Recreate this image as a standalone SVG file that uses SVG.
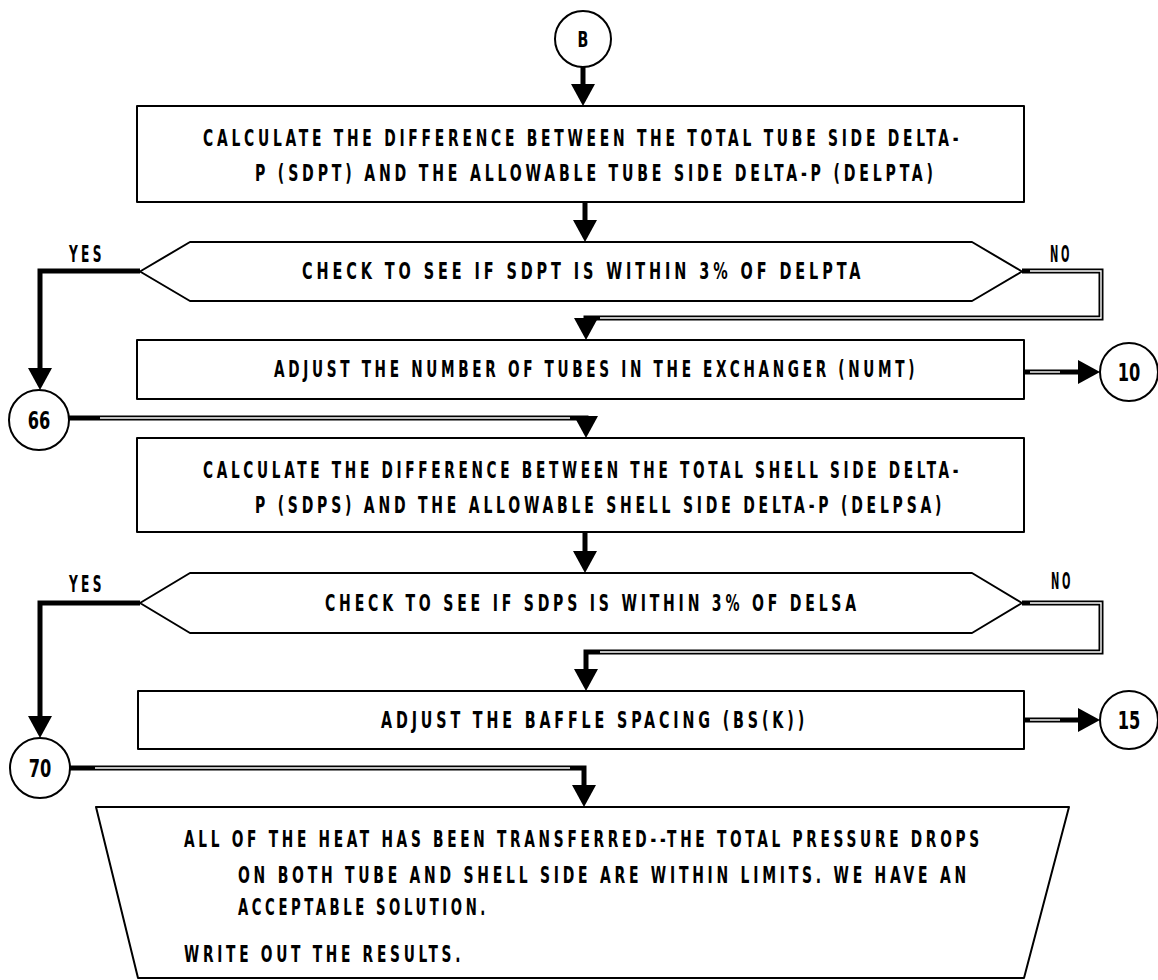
<svg xmlns="http://www.w3.org/2000/svg" width="1158" height="980" viewBox="0 0 1158 980">
  <style>
    .t { font-family: "DejaVu Sans Condensed", "DejaVu Sans", "Liberation Sans", sans-serif; font-weight: bold; font-size: 23px; letter-spacing: 5.6px; fill: #000; }
    .lbl { font-family: "DejaVu Sans Condensed", "DejaVu Sans", sans-serif; font-weight: bold; font-size: 24px; fill: #000; text-anchor: middle; }
    .shape { fill: #fff; stroke: #000; stroke-width: 2; stroke-linejoin: round; }
    .wire { fill: none; stroke: #000; stroke-width: 5; stroke-linejoin: miter; }
    .core { fill: none; stroke: #fff; stroke-width: 1.4; }
    .head { fill: #000; }
  </style>
  <defs>
    <!-- arrowheads, tip at the origin -->
    <path id="down" d="M-12,-22 L12,-22 L0,0 Z"/>
    <path id="right" d="M-22,-12 L-22,12 L0,0 Z"/>
  </defs>

  <rect width="1158" height="980" fill="#fff"/>

  <!-- connectors -->
  <g id="connectors">
    <!-- B to first box -->
    <path class="wire" d="M583,67 V88"/>
    <use href="#down" class="head" x="583" y="106"/>
    <!-- first box to first decision -->
    <path class="wire" d="M585,202 V224"/>
    <use href="#down" class="head" x="585" y="242"/>
    <!-- decision 1: YES to 66 -->
    <path class="wire" d="M140,271 H40 V372"/>
    <use href="#down" class="head" x="40" y="390"/>
    <!-- decision 1: NO to tube adjustment -->
    <path class="wire" d="M1022,271 H1101 V318 H586 V322"/>
    <path class="core" d="M1030,271 H1101 V318 H600"/>
    <use href="#down" class="head" x="586" y="340"/>
    <!-- tube adjustment to 10 -->
    <path class="wire" d="M1024,372 H1082"/>
    <path class="core" d="M1030,372 H1060"/>
    <use href="#right" class="head" x="1100" y="372"/>
    <!-- 66 to shell box -->
    <path class="wire" d="M69,418 H586 V420"/>
    <path class="core" d="M100,418 H570"/>
    <use href="#down" class="head" x="586" y="438"/>
    <!-- shell box to second decision -->
    <path class="wire" d="M585,532 V555"/>
    <use href="#down" class="head" x="585" y="573"/>
    <!-- decision 2: YES to 70 -->
    <path class="wire" d="M140,603 H40 V720"/>
    <use href="#down" class="head" x="40" y="738"/>
    <!-- decision 2: NO to baffle adjustment -->
    <path class="wire" d="M1022,603 H1101 V652 H586 V673"/>
    <path class="core" d="M1030,603 H1101 V652 H600"/>
    <use href="#down" class="head" x="586" y="691"/>
    <!-- baffle adjustment to 15 -->
    <path class="wire" d="M1024,720 H1082"/>
    <path class="core" d="M1030,720 H1060"/>
    <use href="#right" class="head" x="1100" y="720"/>
    <!-- 70 to final output -->
    <path class="wire" d="M70,768 H584 V789"/>
    <path class="core" d="M95,768 H570"/>
    <use href="#down" class="head" x="584" y="807"/>
  </g>

  <!-- connector B -->
  <g id="node-B">
    <circle class="shape" cx="583" cy="39" r="28"/>
    <text class="lbl" transform="translate(583 47) scale(0.75 1)" style="font-size:21px">B</text>
  </g>

  <!-- tube side difference -->
  <g id="node-tube-diff">
    <rect class="shape" x="137" y="106" width="887" height="96"/>
    <text class="t" transform="translate(203 146) scale(0.65 1)" textLength="1168" lengthAdjust="spacingAndGlyphs">CALCULATE THE DIFFERENCE BETWEEN THE TOTAL TUBE SIDE DELTA-</text>
    <text class="t" transform="translate(255 181) scale(0.65 1)" textLength="1049" lengthAdjust="spacingAndGlyphs">P (SDPT) AND THE ALLOWABLE TUBE SIDE DELTA-P (DELPTA)</text>
  </g>

  <!-- tube side check -->
  <g id="node-tube-check">
    <polygon class="shape" points="140,271.5 190,242 972,242 1022,271.5 972,301 190,301"/>
    <text class="t" transform="translate(302 279) scale(0.65 1)" textLength="865" lengthAdjust="spacingAndGlyphs">CHECK TO SEE IF SDPT IS WITHIN 3% OF DELPTA</text>
    <text class="t" transform="translate(69 262) scale(0.65 1)" textLength="55" lengthAdjust="spacingAndGlyphs">YES</text>
    <text class="t" transform="translate(1050 262) scale(0.65 1)" textLength="34" lengthAdjust="spacingAndGlyphs">NO</text>
  </g>

  <!-- tube count adjustment -->
  <g id="node-tube-adjust">
    <rect class="shape" x="137" y="340" width="887" height="59"/>
    <text class="t" transform="translate(274 377) scale(0.65 1)" textLength="991" lengthAdjust="spacingAndGlyphs">ADJUST THE NUMBER OF TUBES IN THE EXCHANGER (NUMT)</text>
  </g>

  <!-- connector 10 -->
  <g id="node-10">
    <circle class="shape" cx="1129" cy="372" r="29"/>
    <text class="lbl" transform="translate(1129 381) scale(0.75 1)">10</text>
  </g>

  <!-- connector 66 -->
  <g id="node-66">
    <circle class="shape" cx="39" cy="420" r="30"/>
    <text class="lbl" transform="translate(39 429) scale(0.75 1)">66</text>
  </g>

  <!-- shell side difference -->
  <g id="node-shell-diff">
    <rect class="shape" x="137" y="438" width="887" height="94"/>
    <text class="t" transform="translate(203 478) scale(0.65 1)" textLength="1168" lengthAdjust="spacingAndGlyphs">CALCULATE THE DIFFERENCE BETWEEN THE TOTAL SHELL SIDE DELTA-</text>
    <text class="t" transform="translate(255 513) scale(0.65 1)" textLength="1062" lengthAdjust="spacingAndGlyphs">P (SDPS) AND THE ALLOWABLE SHELL SIDE DELTA-P (DELPSA)</text>
  </g>

  <!-- shell side check -->
  <g id="node-shell-check">
    <polygon class="shape" points="140,603 190,573 972,573 1022,603 972,633 190,633"/>
    <text class="t" transform="translate(325 611) scale(0.65 1)" textLength="823" lengthAdjust="spacingAndGlyphs">CHECK TO SEE IF SDPS IS WITHIN 3% OF DELSA</text>
    <text class="t" transform="translate(69 592) scale(0.65 1)" textLength="55" lengthAdjust="spacingAndGlyphs">YES</text>
    <text class="t" transform="translate(1051 589) scale(0.65 1)" textLength="34" lengthAdjust="spacingAndGlyphs">NO</text>
  </g>

  <!-- baffle spacing adjustment -->
  <g id="node-baffle-adjust">
    <rect class="shape" x="138" y="691" width="886" height="58"/>
    <text class="t" transform="translate(381 728) scale(0.65 1)" textLength="657" lengthAdjust="spacingAndGlyphs">ADJUST THE BAFFLE SPACING (BS(K))</text>
  </g>

  <!-- connector 15 -->
  <g id="node-15">
    <circle class="shape" cx="1129" cy="720" r="29"/>
    <text class="lbl" transform="translate(1129 729) scale(0.75 1)">15</text>
  </g>

  <!-- connector 70 -->
  <g id="node-70">
    <circle class="shape" cx="40" cy="768" r="30"/>
    <text class="lbl" transform="translate(40 777) scale(0.75 1)">70</text>
  </g>

  <!-- final output -->
  <g id="node-output">
    <polygon class="shape" points="96,807 1069,807 1024,978 138,978"/>
    <text class="t" transform="translate(184 847) scale(0.65 1)" textLength="1229" lengthAdjust="spacingAndGlyphs">ALL OF THE HEAT HAS BEEN TRANSFERRED--THE TOTAL PRESSURE DROPS</text>
    <text class="t" transform="translate(238 883) scale(0.65 1)" textLength="1126" lengthAdjust="spacingAndGlyphs">ON BOTH TUBE AND SHELL SIDE ARE WITHIN LIMITS. WE HAVE AN</text>
    <text class="t" transform="translate(238 915) scale(0.65 1)" textLength="386" lengthAdjust="spacingAndGlyphs">ACCEPTABLE SOLUTION.</text>
    <text class="t" transform="translate(184 962) scale(0.65 1)" textLength="431" lengthAdjust="spacingAndGlyphs">WRITE OUT THE RESULTS.</text>
  </g>
</svg>
